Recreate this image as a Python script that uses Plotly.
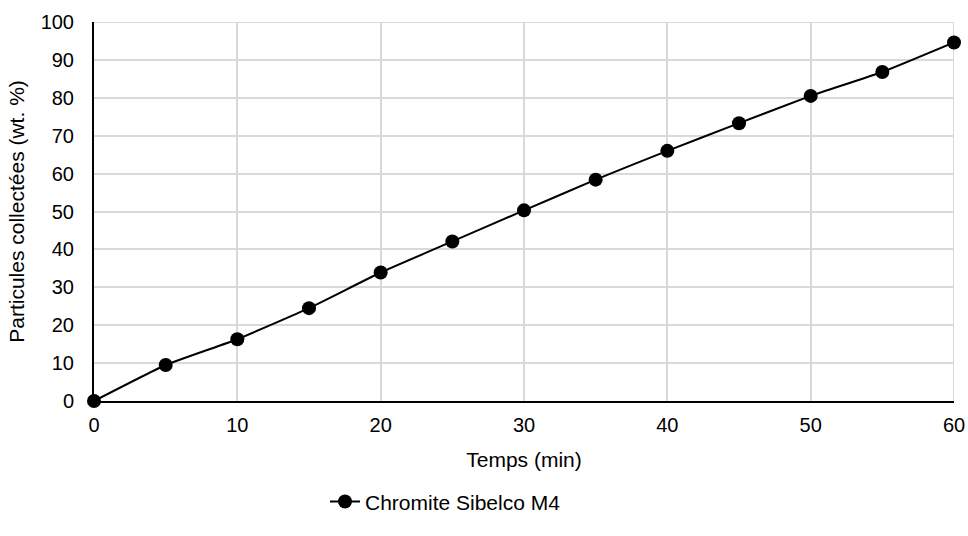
import plotly.graph_objects as go

temps = [0, 5, 10, 15, 20, 25, 30, 35, 40, 45, 50, 55, 60]
particules = [0, 9.5, 16.3, 24.5, 33.9, 42.1, 50.3, 58.4, 66.0, 73.3, 80.5, 86.8, 94.6]
series_name = "Chromite Sibelco M4"

fig = go.Figure()
fig.add_trace(go.Scatter(
    x=temps, y=particules, name=series_name, mode="lines+markers",
    line=dict(color="black", width=2, shape="spline", smoothing=0.4),
    marker=dict(color="black", size=14),
    cliponaxis=False,
))

fam = "Liberation Sans, Arial, sans-serif"
fig.update_layout(
    width=968, height=536,
    margin=dict(l=94, r=14, t=22, b=135, autoexpand=False),
    plot_bgcolor="white", paper_bgcolor="white",
    font=dict(family=fam, color="black", size=20),
    showlegend=True,
    legend=dict(orientation="h", x=0.2686, xanchor="left", y=-0.266, yanchor="middle",
                font=dict(size=21)),
    xaxis=dict(
        range=[0, 60], dtick=10, showgrid=True, gridcolor="#d9d9d9", gridwidth=2,
        showline=True, linecolor="black", linewidth=2, zeroline=False,
        ticks="outside", ticklen=0, ticklabelstandoff=5, automargin=False,
        tickfont=dict(size=20),
        title=dict(text="Temps (min)", font=dict(size=21), standoff=17),
    ),
    yaxis=dict(
        range=[0, 100], dtick=10, showgrid=True, gridcolor="#d9d9d9", gridwidth=2,
        showline=True, linecolor="black", linewidth=2, zeroline=False,
        ticks="outside", ticklen=0, ticklabelstandoff=14, automargin=False,
        tickfont=dict(size=20),
        title=dict(text="Particules collectées (wt. %)", font=dict(size=21), standoff=10),
    ),
)
fig.add_shape(type="line", xref="x", yref="paper", x0=60, x1=60, y0=0, y1=1,
              line=dict(color="#d9d9d9", width=2), layer="below")
fig.add_shape(type="line", xref="paper", yref="y", x0=0, x1=1, y0=100, y1=100,
              line=dict(color="#d9d9d9", width=2), layer="below")

fig.write_html(
    "out.html",
    config={"displayModeBar": False},
    post_script="document.body.style.margin='0';document.body.style.overflow='hidden';",
)
